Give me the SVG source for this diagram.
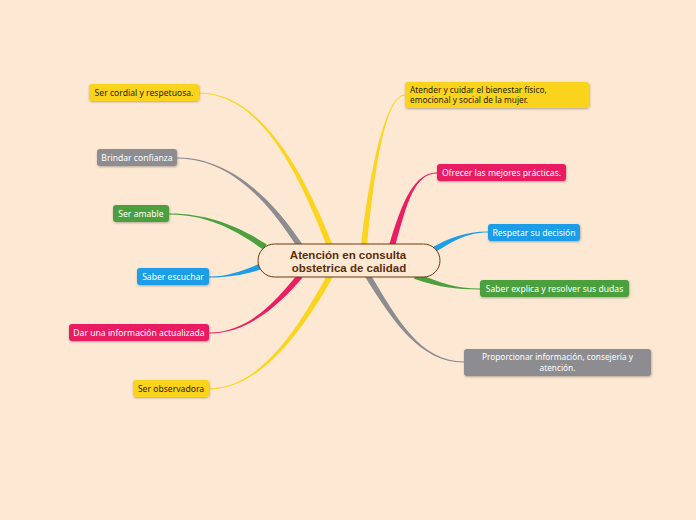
<svg xmlns="http://www.w3.org/2000/svg" width="696" height="520" viewBox="0 0 696 520">
<defs>
<filter id="sh" x="-10%" y="-30%" width="120%" height="170%"><feDropShadow dx="0.5" dy="1" stdDeviation="0.8" flood-color="#000" flood-opacity="0.3"/></filter>
<style>
.t{font-family:"Noto Sans","DejaVu Sans",sans-serif;font-size:8.6px}
.t2{font-size:8.3px}
.w{fill:#fff}.d{fill:#2b2300}
.y{fill:#FAD41E}.g{fill:#8C8C91}.gr{fill:#4CA03E}.b{fill:#1E9DE8}.r{fill:#E91E63}
.box{filter:url(#sh)}
.c{font-family:"Liberation Sans","Noto Sans",sans-serif;font-size:11.5px;font-weight:bold;fill:#5A2D0C}
</style>
</defs>
<rect width="696" height="520" fill="#FDE8D3"/>
<g id="connectors">
<path class="y" d="M332.8,245.1 C302.3,169.1 260,92.5 199,92.5 L199,93.5 C260,93.5 297.7,170.9 327.2,246.9 Z"/>
<path class="g" d="M302.6,244.6 C272.1,198.6 230,157.5 177,157.5 L177,158.5 C230,158.5 267.9,201.4 297.4,247.4 Z"/>
<path class="gr" d="M266.9,244.6 C241.4,227.9 210,213.5 169,213.5 L169,214.5 C210,214.5 238.6,232.1 263.1,249.4 Z"/>
<path class="b" d="M261,263.2 C244.2,269.6 230,276.5 209,276.5 L209,277.5 C230,277.5 245.8,274.4 263,268.8 Z"/>
<path class="r" d="M297.8,274.1 C278.1,298.4 250,332.5 209,332.5 L209,333.5 C250,333.5 281.9,301.6 302.2,277.9 Z"/>
<path class="y" d="M327.4,274.6 C297.8,328.8 260,388.5 209,388.5 L209,389.5 C260,389.5 302.2,331.2 332.6,277.4 Z"/>
<path class="y" d="M367,246.4 C372.5,190.4 383,95.5 405,95.5 L405,94.5 C383,94.5 367.5,189.6 361,245.6 Z"/>
<path class="r" d="M394.9,246.8 C407.4,200.7 415,173.5 437,173.5 L437,172.5 C415,172.5 402.6,199.3 389.1,245.2 Z"/>
<path class="b" d="M431.6,254.6 C451.3,242.2 465,232.5 488,232.5 L488,231.5 C465,231.5 448.7,237.9 428.4,249.5 Z"/>
<path class="gr" d="M414,278.8 C439.2,287.4 455,289.5 480,289.5 L480,288.5 C455,288.5 440.8,282.6 416,273.2 Z"/>
<path class="g" d="M365.5,277.5 C392.9,321.3 420,362.5 464,362.5 L464,361.5 C420,361.5 397.1,318.7 370.5,274.5 Z"/>
</g>
<g id="center">
<rect x="258" y="244" width="182" height="33" rx="16.5" fill="#FDE8D3" stroke="#6B3A12" stroke-width="1"/>
<text class="c" x="348" y="259" text-anchor="middle">Atención en consulta</text>
<text class="c" x="349" y="271.5" text-anchor="middle">obstetrica de calidad</text>
</g>
<g id="n1"><rect class="box y" x="89" y="84" width="110" height="17" rx="3"/><text class="t d" x="144" y="95.5" text-anchor="middle">Ser cordial y respetuosa.</text></g>
<g id="n2"><rect class="box g" x="97" y="149" width="80" height="17" rx="3"/><text class="t w" x="137" y="160.5" text-anchor="middle">Brindar confianza</text></g>
<g id="n3"><rect class="box gr" x="113" y="205" width="56" height="17" rx="3"/><text class="t w" x="141" y="216.5" text-anchor="middle">Ser amable</text></g>
<g id="n4"><rect class="box b" x="137" y="268" width="72" height="17" rx="3"/><text class="t w" x="173" y="279.5" text-anchor="middle">Saber escuchar</text></g>
<g id="n5"><rect class="box r" x="69" y="324" width="140" height="17" rx="3"/><text class="t w" x="139" y="335.5" text-anchor="middle">Dar una información actualizada</text></g>
<g id="n6"><rect class="box y" x="133" y="380" width="76" height="17" rx="3"/><text class="t d" x="171" y="391.5" text-anchor="middle">Ser observadora</text></g>
<g id="n7"><rect class="box y" x="405" y="82" width="184" height="26" rx="3"/><text class="t t2 d" x="410" y="92.5">Atender y cuidar el bienestar físico,</text><text class="t t2 d" x="410" y="103">emocional y social de la mujer.</text></g>
<g id="n8"><rect class="box r" x="437" y="164" width="129" height="17" rx="3"/><text class="t w" x="501.5" y="175.5" text-anchor="middle">Ofrecer las mejores prácticas.</text></g>
<g id="n9"><rect class="box b" x="488" y="224" width="92" height="17" rx="3"/><text class="t w" x="534" y="235.5" text-anchor="middle">Respetar su decisión</text></g>
<g id="n10"><rect class="box gr" x="480" y="280" width="149" height="17" rx="3"/><text class="t w" x="554.5" y="291.5" text-anchor="middle">Saber explica y resolver sus dudas</text></g>
<g id="n11"><rect class="box g" x="464" y="349" width="187" height="27" rx="3"/><text class="t t2 w" x="557.5" y="360" text-anchor="middle">Proporcionar información, consejería y</text><text class="t t2 w" x="557.5" y="370.5" text-anchor="middle">atención.</text></g>
</svg>
